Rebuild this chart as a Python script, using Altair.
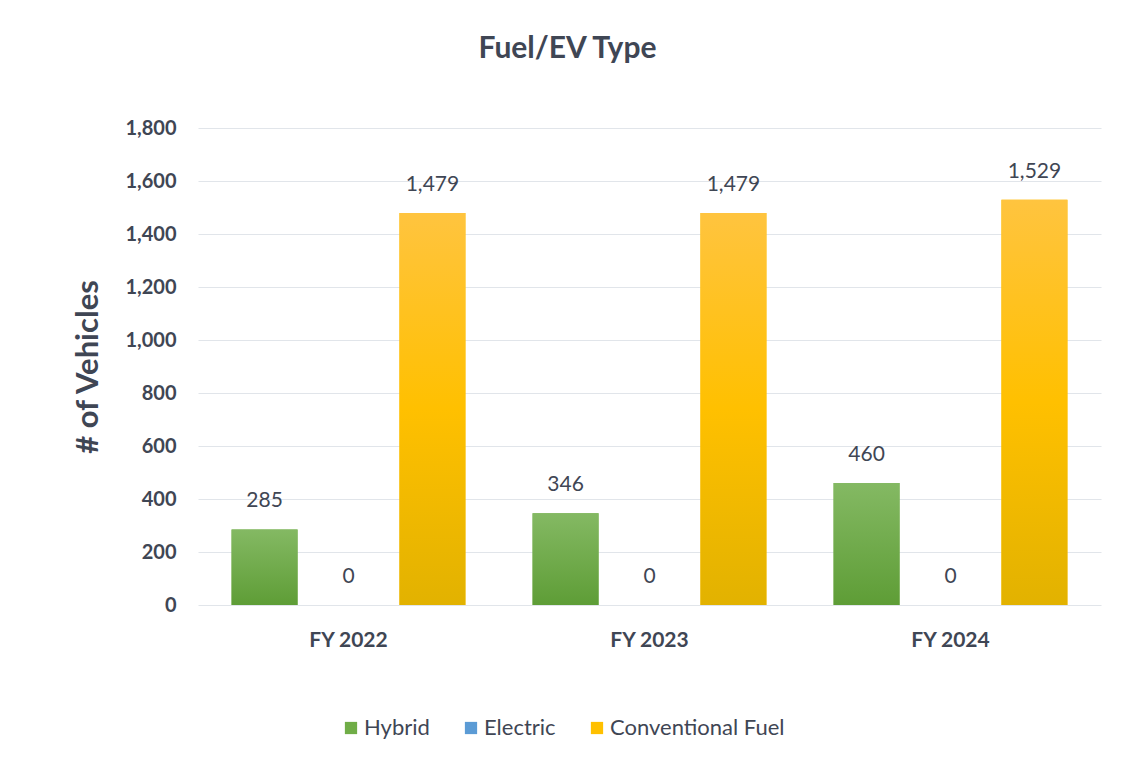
import altair as alt
import pandas as pd

years = ["FY 2022", "FY 2023", "FY 2024"]
series = ["Hybrid", "Electric", "Conventional Fuel"]
hybrid = [285, 346, 460]
electric = [0, 0, 0]
conventional = [1479, 1479, 1529]
y_ticks = [0, 200, 400, 600, 800, 1000, 1200, 1400, 1600, 1800]

rows = []
for i, yr in enumerate(years):
    for s, vals in zip(series, [hybrid, electric, conventional]):
        rows.append({"Year": yr, "Series": s, "Value": vals[i]})
df = pd.DataFrame(rows)

txt = "#3f4654"
font = "Lato"
solid_colors = ["#70ad47", "#5b9bd5", "#ffc000"]

green_grad = {
    "gradient": "linear", "x1": 0, "x2": 0, "y1": 0, "y2": 1,
    "stops": [{"offset": 0, "color": "#84b963"}, {"offset": 1, "color": "#5e9d36"}],
}
yellow_grad = {
    "gradient": "linear", "x1": 0, "x2": 0, "y1": 0, "y2": 1,
    "stops": [{"offset": 0, "color": "#ffc43f"}, {"offset": 0.5, "color": "#ffc000"},
              {"offset": 1, "color": "#e2b200"}],
}

x = alt.X("Year:N", sort=years,
          scale=alt.Scale(paddingInner=0, paddingOuter=0),
          axis=alt.Axis(title=None, labelAngle=0, ticks=False, domain=False,
                        labelPadding=24, labelFontSize=21, labelFontWeight="bold",
                        labelColor=txt, labelFont=font))
xo = alt.XOffset("Series:N", sort=series,
                 scale=alt.Scale(domain=series, paddingInner=0.214, paddingOuter=0.4))
y = alt.Y("Value:Q", scale=alt.Scale(domain=[0, 1800], nice=False),
          axis=alt.Axis(title="# of Vehicles", values=y_ticks, format=",.0f",
                        ticks=False, domain=False, grid=True, gridColor="#e1e5ea",
                        gridWidth=1.2, labelPadding=22, labelFontSize=20,
                        labelFontWeight="bold", labelColor=txt, labelFont=font,
                        titleFontSize=31, titleFontWeight="bold", titleColor=txt,
                        titleFont=font, titleX=-94))

base = alt.Chart(df)

solid = base.mark_bar().encode(
    x=x, xOffset=xo, y=y,
    color=alt.Color("Series:N", sort=series,
                    scale=alt.Scale(domain=series, range=solid_colors),
                    legend=alt.Legend(title=None, orient="none", direction="horizontal",
                                      legendX=142, legendY=589, symbolType="square",
                                      symbolSize=150, symbolStrokeWidth=0,
                                      labelFontSize=22, labelColor=txt, labelFont=font,
                                      labelFontWeight="normal", labelOffset=2,
                                      labelLimit=400, columnPadding=30)),
)

hyb = base.transform_filter(alt.datum.Series == "Hybrid").mark_bar(fill=green_grad).encode(
    x=x, xOffset=xo, y=y)
conv = base.transform_filter(alt.datum.Series == "Conventional Fuel").mark_bar(fill=yellow_grad).encode(
    x=x, xOffset=xo, y=y)

labels = base.mark_text(dy=-28, baseline="middle", fontSize=21, color=txt, font=font).encode(
    x=x, xOffset=xo, y=y, text=alt.Text("Value:Q", format=",.0f"))

chart = alt.layer(solid, hyb, conv, labels).properties(
    width=903, height=477,
    autosize=alt.AutoSizeParams(type="none"),
    padding={"left": 190, "top": 120, "right": 20, "bottom": 150},
    title=alt.TitleParams("Fuel/EV Type", fontSize=30, fontWeight="bold", color=txt,
                          font=font, anchor="middle", dx=-82, offset=54),
).configure(background="white").configure_view(strokeWidth=0)

chart.save("out.html", embed_options={"renderer": "svg", "actions": False})
